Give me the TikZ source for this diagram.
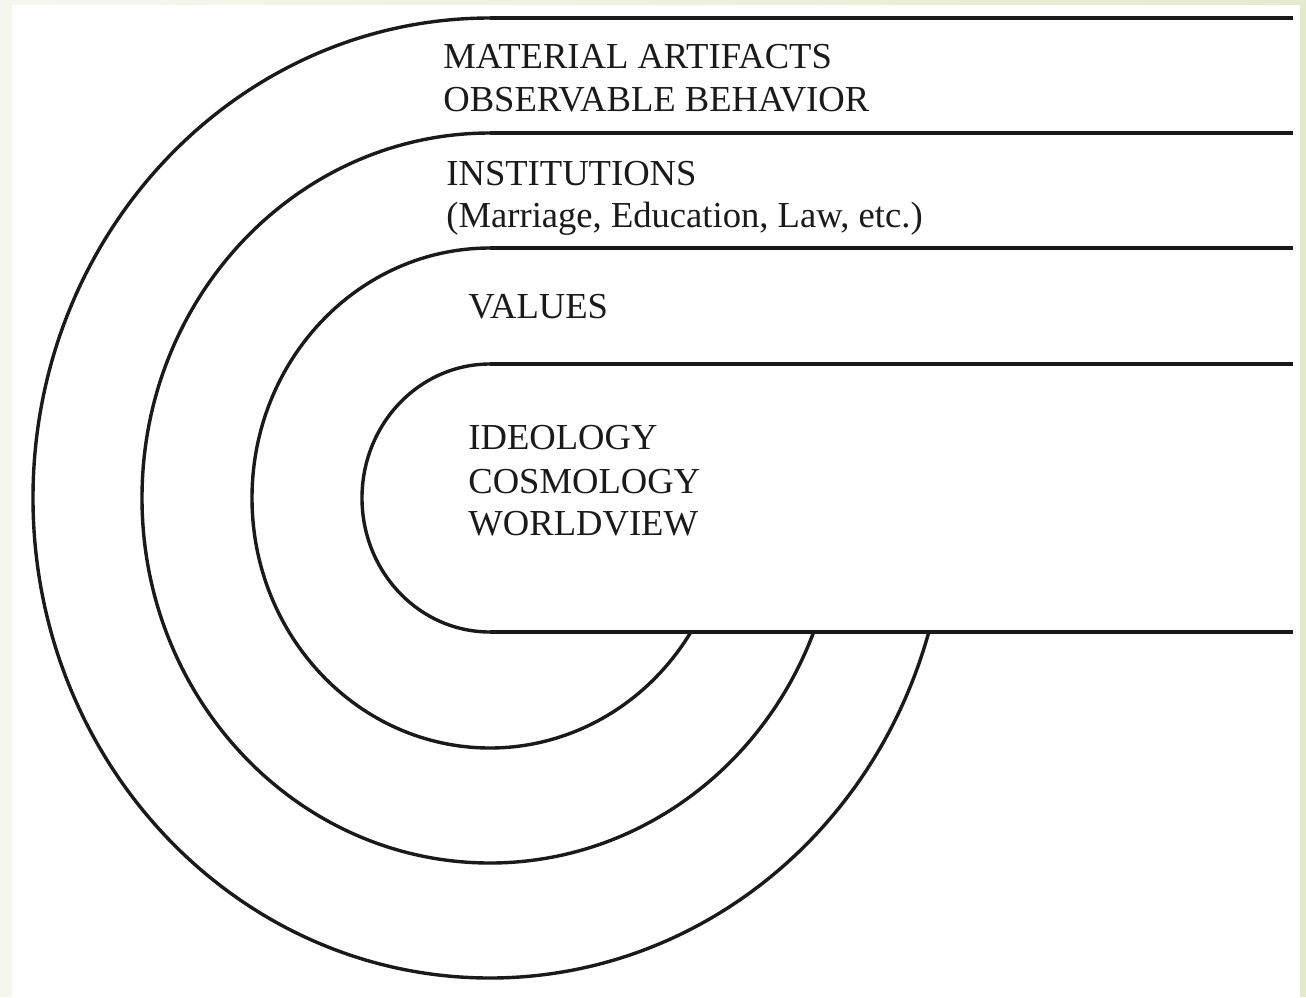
\documentclass[tikz,border=0pt]{standalone}
\usepackage{fontspec}
\setmainfont{Liberation Serif}
\usetikzlibrary{positioning}
\definecolor{Ink}{HTML}{1A1A1A}
\definecolor{PaleLeft}{HTML}{F5F7EE}
\definecolor{PaleRight}{HTML}{E4EBCD}

\begin{document}
\begin{tikzpicture}[x=0.5pt,y=-0.5pt,
  band/.style={draw=Ink,line width=2.3pt},
  ring/.style={draw=Ink,line width=1.7pt},
  lbl/.style={anchor=base west,inner sep=0pt,text=Ink,
    font=\fontsize{18.3}{21.5}\selectfont}]
  \useasboundingbox (0,0) rectangle (1306,997);
  \fill[white] (0,0) rectangle (1306,997);
  \fill[PaleLeft] (0,0) rectangle (12,997);
  \shade[left color=PaleLeft,right color=PaleRight] (0,0) rectangle (1306,4);
  \fill[PaleRight] (1300,0) rectangle (1306,997);
  % tops of the layers and the ends of their lines
  \coordinate (t1) at (490,18);  \coordinate (e1) at (1293,18);
  \coordinate (t2) at (490,133); \coordinate (e2) at (1293,133);
  \coordinate (t3) at (490,248); \coordinate (e3) at (1293,248);
  \coordinate (t4) at (490,364); \coordinate (e4) at (1293,364);
  \coordinate (b4) at (490,632); \coordinate (e5) at (1293,632);
  \draw[band] (t1)--(e1);
  \draw[band] (t2)--(e2);
  \draw[band] (t3)--(e3);
  \draw[band] (t4)--(e4);
  \draw[band] (b4)--(e5);
  \draw[ring] (t1) arc[start angle=270,end angle=16.2,x radius=457,y radius=480];
  \draw[ring] (t2) arc[start angle=270,end angle=21.5,x radius=348,y radius=365];
  \draw[ring] (t3) arc[start angle=270,end angle=32.4,x radius=238,y radius=250];
  \draw[ring] (t4) arc[start angle=270,end angle=90,x radius=128,y radius=134];
  % labels
  \node[lbl] (ma) at (443,68) {MATERIAL ARTIFACTS};
  \node[lbl] (ob) at ([yshift=-21.5pt]ma.base west) {OBSERVABLE BEHAVIOR};
  \node[lbl] (in) at (446,185) {INSTITUTIONS};
  \node[lbl] (ex) at ([yshift=-21pt]in.base west) {(Marriage, Education, Law, etc.)};
  \node[lbl] (va) at (468,318) {VALUES};
  \node[lbl] (id) at (468,449) {IDEOLOGY};
  \node[lbl] (co) at ([yshift=-22pt]id.base west) {COSMOLOGY};
  \node[lbl] (wo) at ([yshift=-21pt]co.base west) {WORLDVIEW};
\end{tikzpicture}
\end{document}
